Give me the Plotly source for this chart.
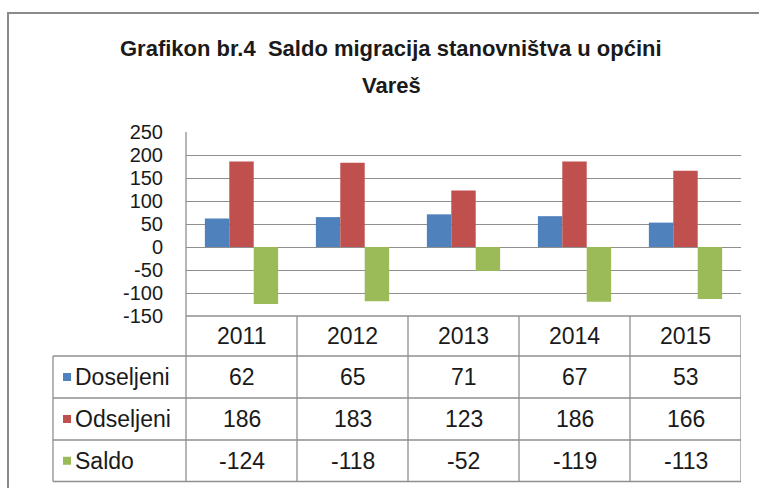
import plotly.graph_objects as go

years = ["2011", "2012", "2013", "2014", "2015"]
series_names = ["Doseljeni", "Odseljeni", "Saldo"]
doseljeni = [62, 65, 71, 67, 53]
odseljeni = [186, 183, 123, 186, 166]
saldo = [-124, -118, -52, -119, -113]
colors = ["#4F81BD", "#C0504D", "#9BBB59"]
y_ticks = [250, 200, 150, 100, 50, 0, -50, -100, -150]

W, H = 759, 488
L, R, T, B = 186, 18, 132, 172
PW, PH = W - L - R, H - T - B


def px(x):
    return (x - L) / PW


def py(y):
    return (H - B - y) / PH


FONT = "Liberation Sans, Arial, sans-serif"
TXT = "#1a1a1a"
GRID = "#8f8f8f"
TSIZE = 23

values = [doseljeni, odseljeni, saldo]
fig = go.Figure()
for name, vals, col in zip(series_names, values, colors):
    fig.add_trace(go.Bar(x=years, y=vals, name=name, marker=dict(color=col, line=dict(width=0))))

shapes = []
annotations = []

# outer chart border
shapes.append(dict(type="rect", xref="paper", yref="paper", x0=px(8), x1=px(770), y0=py(13), y1=py(500),
                   line=dict(color="#8a8a8a", width=2), layer="below"))

# table geometry (pixel rows)
row_y = [316, 356, 398, 440, 481.5]
tab_left = 53
tab_right = 741
shapes.append(dict(type="line", xref="paper", yref="paper", x0=0, x1=px(tab_right), y0=py(row_y[0]), y1=py(row_y[0]),
                   line=dict(color=GRID, width=1.3)))
for ry in row_y[1:]:
    shapes.append(dict(type="line", xref="paper", yref="paper", x0=px(tab_left), x1=px(tab_right), y0=py(ry), y1=py(ry),
                       line=dict(color=GRID, width=1.3)))
shapes.append(dict(type="line", xref="paper", yref="paper", x0=0, x1=0, y0=1, y1=py(row_y[-1]),
                   line=dict(color=GRID, width=1.3)))
shapes.append(dict(type="line", xref="paper", yref="paper", x0=px(tab_left), x1=px(tab_left), y0=py(row_y[1]), y1=py(row_y[-1]),
                   line=dict(color=GRID, width=1.3)))
for i in range(len(years)):
    xb = i + 0.5
    shapes.append(dict(type="line", xref="x", yref="paper", x0=xb, x1=xb, y0=py(row_y[0]), y1=py(row_y[-1]),
                       line=dict(color=GRID, width=1.3)))

for i, yr in enumerate(years):
    annotations.append(dict(x=i, y=py((row_y[0] + row_y[1]) / 2), xref="x", yref="paper", text=yr, showarrow=False,
                            font=dict(family=FONT, size=TSIZE, color=TXT), xanchor="center", yanchor="middle"))
for r, (name, vals, col) in enumerate(zip(series_names, values, colors)):
    yc = py((row_y[r + 1] + row_y[r + 2]) / 2)
    shapes.append(dict(type="rect", xref="paper", yref="paper", x0=px(63), x1=px(71), y0=yc - 4 / PH, y1=yc + 4 / PH,
                       fillcolor=col, line=dict(width=0)))
    annotations.append(dict(x=px(73), y=yc, xref="paper", yref="paper", text=name, showarrow=False,
                            font=dict(family=FONT, size=TSIZE, color=TXT), xanchor="left", yanchor="middle"))
    for i, v in enumerate(vals):
        annotations.append(dict(x=i, y=yc, xref="x", yref="paper", text=str(v), showarrow=False,
                                font=dict(family=FONT, size=TSIZE, color=TXT), xanchor="center", yanchor="middle"))

annotations.append(dict(x=px(391), y=py(48), xref="paper", yref="paper",
                        text="<b>Grafikon br.4 \u00a0Saldo migracija stanovništva u općini</b>", showarrow=False,
                        font=dict(family=FONT, size=22, color=TXT), xanchor="center", yanchor="middle"))
annotations.append(dict(x=px(391), y=py(85), xref="paper", yref="paper",
                        text="<b>Vareš</b>", showarrow=False,
                        font=dict(family=FONT, size=22, color=TXT), xanchor="center", yanchor="middle"))

fig.update_layout(
    width=W, height=H,
    margin=dict(l=L, r=R, t=T, b=B, pad=0),
    paper_bgcolor="white", plot_bgcolor="white",
    barmode="group", bargap=0.34, bargroupgap=0,
    showlegend=False,
    shapes=shapes, annotations=annotations,
    xaxis=dict(type="category", showticklabels=False, showgrid=False, zeroline=False, showline=False,
               range=[-0.5, 4.5], fixedrange=True),
    yaxis=dict(range=[-150, 250], tickvals=y_ticks, ticktext=[str(v) for v in y_ticks],
               showgrid=True, gridcolor=GRID, gridwidth=1.3, zeroline=True, zerolinecolor=GRID, zerolinewidth=1.3,
               showline=False, ticks="", ticklabelstandoff=22,
               tickfont=dict(family=FONT, size=20, color=TXT), fixedrange=True),
)

fig.write_html("out.html", config={"displayModeBar": False},
               post_script="document.body.style.margin='0px';document.body.style.padding='0px';")
